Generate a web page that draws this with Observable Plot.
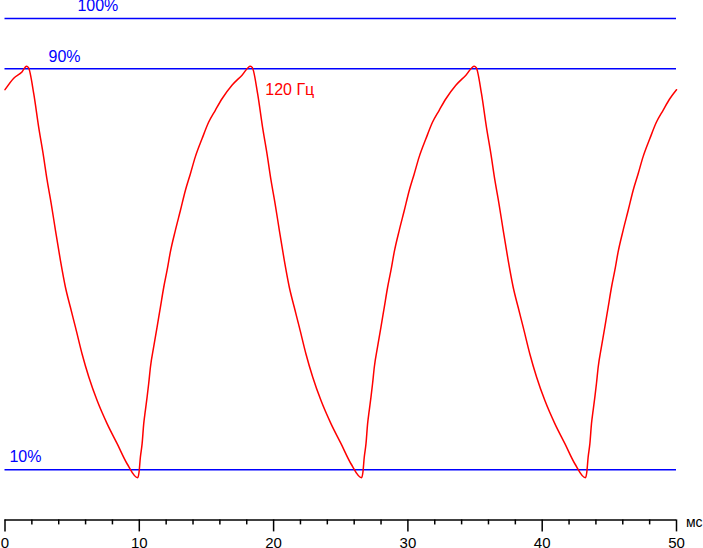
<!DOCTYPE html>
<html>
<head>
<meta charset="utf-8">
<script src="https://cdn.jsdelivr.net/npm/d3@7"></script>
<script src="https://cdn.jsdelivr.net/npm/@observablehq/plot@0.6"></script>
<style>
  html, body { margin: 0; padding: 0; background: #fff; }
  #chart svg { display: block; }
</style>
</head>
<body>
<div id="chart"></div>
<script>
// time, ms
const times = [
  0, 0.65, 1.28, 1.6, 1.75, 2.14, 2.51, 2.84, 3.14, 3.44, 3.76, 4.13, 4.5, 4.87, 5.25, 5.74, 6.24, 6.86, 7.6, 8.35, 9.09, 9.88,
  9.98, 10.08, 10.21, 10.33, 10.45, 10.58, 10.7, 10.83, 11.07, 11.32, 11.57, 11.82, 12.07, 12.31, 12.69, 13.06, 13.43, 13.8, 14.17, 14.67, 15.16, 15.66, 16.16, 16.9, 17.65,
  18.27, 18.42, 18.81, 19.18, 19.51, 19.81, 20.11, 20.43, 20.8, 21.17, 21.54, 21.92, 22.41, 22.91, 23.53, 24.27, 25.02, 25.76, 26.55,
  26.65, 26.75, 26.88, 27.0, 27.12, 27.25, 27.37, 27.5, 27.74, 27.99, 28.24, 28.49, 28.74, 28.98, 29.36, 29.73, 30.1, 30.47, 30.84, 31.34, 31.83, 32.33, 32.83, 33.57, 34.32,
  34.94, 35.09, 35.48, 35.85, 36.18, 36.48, 36.78, 37.1, 37.47, 37.84, 38.21, 38.59, 39.08, 39.58, 40.2, 40.94, 41.69, 42.43, 43.22,
  43.32, 43.42, 43.55, 43.67, 43.79, 43.92, 44.04, 44.17, 44.41, 44.66, 44.91, 45.16, 45.41, 45.65, 46.03, 46.4, 46.77, 47.14, 47.51, 48.01, 48.5, 49.0, 49.5, 50.0
];
// brightness, %
const brightness = [
  85.8, 88.1, 89.4, 90.5, 90.2, 85.0, 78.3, 73.0, 67.7, 63.1, 57.7, 51.7, 46.4, 42.4, 38.4, 33.1, 28.5, 23.8, 19.2, 15.2, 11.2, 8.4,
  9.5, 12.5, 15.2, 19.2, 21.8, 24.5, 27.2, 30.5, 34.5, 38.4, 42.4, 46.4, 49.8, 53.4, 57.8, 61.7, 65.7, 69.0, 72.4, 76.0, 79.3, 81.7, 84.0, 86.7, 88.7,
  90.5, 90.2, 85.0, 78.3, 73.0, 67.7, 63.1, 57.7, 51.7, 46.4, 42.4, 38.4, 33.1, 28.5, 23.8, 19.2, 15.2, 11.2, 8.4,
  9.5, 12.5, 15.2, 19.2, 21.8, 24.5, 27.2, 30.5, 34.5, 38.4, 42.4, 46.4, 49.8, 53.4, 57.8, 61.7, 65.7, 69.0, 72.4, 76.0, 79.3, 81.7, 84.0, 86.7, 88.7,
  90.5, 90.2, 85.0, 78.3, 73.0, 67.7, 63.1, 57.7, 51.7, 46.4, 42.4, 38.4, 33.1, 28.5, 23.8, 19.2, 15.2, 11.2, 8.4,
  9.5, 12.5, 15.2, 19.2, 21.8, 24.5, 27.2, 30.5, 34.5, 38.4, 42.4, 46.4, 49.8, 53.4, 57.8, 61.7, 65.7, 69.0, 72.4, 76.0, 79.3, 81.7, 84.0, 85.8
];
const levels = [100, 90, 10];
const levelLabels = ["100%", "90%", "10%"];
const majorTicks = [0, 10, 20, 30, 40, 50];
const minorTicks = [2, 4, 6, 8, 12, 14, 16, 18, 22, 24, 26, 28, 32, 34, 36, 38, 42, 44, 46, 48];
const unitLabel = "мс";
const seriesLabel = "120 Гц";

const data = times.map((t, i) => ({t, v: brightness[i]}));
const labelX = [5.39, 3.24, 0.33];
const labelY = [102.6, 92.25, 12.65];
const levelData = levelLabels.map((s, i) => ({s, x: labelX[i], y: labelY[i]}));

const font = "'Liberation Sans', Arial, sans-serif";

const chart = Plot.plot({
  width: 703,
  height: 548,
  marginLeft: 4.5,
  marginRight: 27,
  marginTop: 18,
  marginBottom: 28.6,
  x: {domain: [0, 50], axis: null},
  y: {domain: [0, 100], axis: null},
  style: {fontFamily: font, overflow: "visible", background: "#fff"},
  marks: [
    Plot.ruleY(levels, {x1: 0, x2: 50, stroke: "#0000ff", strokeWidth: 1.5}),
    Plot.line(data, {x: "t", y: "v", stroke: "#ff0000", strokeWidth: 1.5, curve: "monotone-x"}),
    Plot.ruleY([0], {x1: 0, x2: 50, stroke: "#000", strokeWidth: 1.5}),
    Plot.axisX(majorTicks, {tickSize: 12, tickPadding: 5, fontSize: 15, strokeWidth: 1.5, stroke: "#000", fill: "#000", tickFormat: d => String(d)}),
    Plot.axisX(minorTicks, {tickSize: 5, strokeWidth: 1.5, stroke: "#000", tickFormat: () => ""}),
    Plot.text(levelData, {x: "x", y: "y", text: "s", fill: "#0000ff", fontSize: 16, textAnchor: "start", lineAnchor: "middle"}),
    Plot.text([seriesLabel], {x: () => 19.38, y: () => 85.7, text: d => d, fill: "#ff0000", fontSize: 16, textAnchor: "start", lineAnchor: "middle"}),
    Plot.text([unitLabel], {x: () => 50.7, y: () => -0.5, text: d => d, fill: "#000", fontSize: 14, textAnchor: "start", lineAnchor: "middle"})
  ]
});
document.getElementById("chart").appendChild(chart);
</script>
</body>
</html>
